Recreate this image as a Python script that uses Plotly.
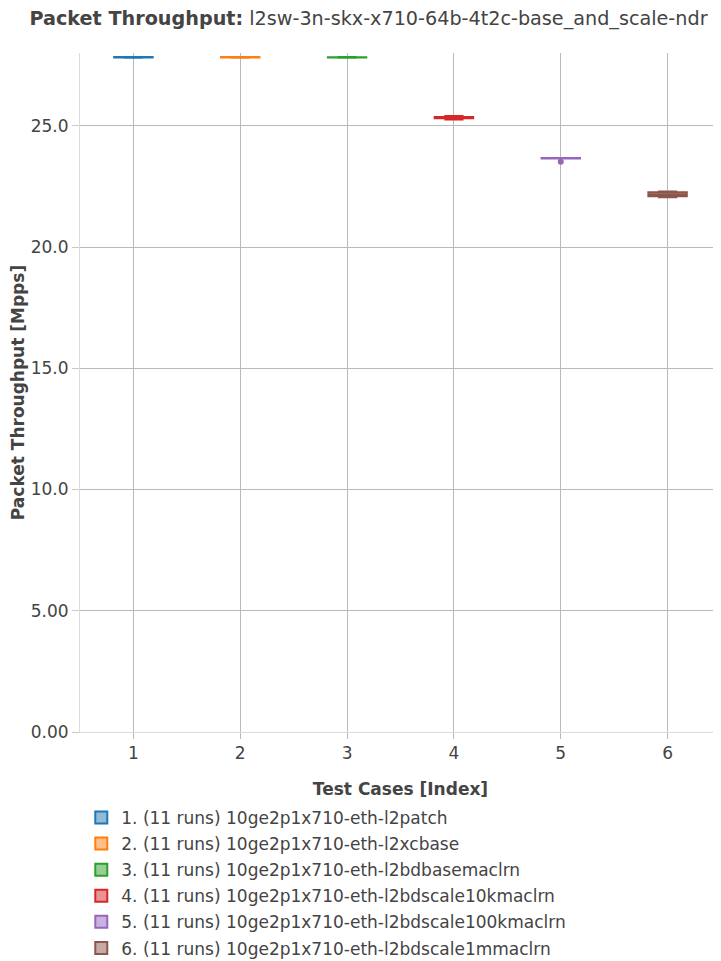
import plotly.graph_objects as go

# ---- data ----
test_index = [1, 2, 3, 4, 5, 6]
test_names = [
    "1. (11 runs) 10ge2p1x710-eth-l2patch",
    "2. (11 runs) 10ge2p1x710-eth-l2xcbase",
    "3. (11 runs) 10ge2p1x710-eth-l2bdbasemaclrn",
    "4. (11 runs) 10ge2p1x710-eth-l2bdscale10kmaclrn",
    "5. (11 runs) 10ge2p1x710-eth-l2bdscale100kmaclrn",
    "6. (11 runs) 10ge2p1x710-eth-l2bdscale1mmaclrn",
]
tc1 = [27.80, 27.81, 27.81, 27.82, 27.82, 27.82, 27.82, 27.83, 27.83, 27.84, 27.84]
tc2 = [27.80, 27.81, 27.81, 27.82, 27.82, 27.82, 27.82, 27.83, 27.83, 27.83, 27.84]
tc3 = [27.80, 27.80, 27.81, 27.82, 27.82, 27.82, 27.82, 27.82, 27.83, 27.83, 27.84]
tc4 = [25.26, 25.29, 25.31, 25.32, 25.33, 25.33, 25.34, 25.35, 25.36, 25.38, 25.40]
tc5 = [23.66, 23.67, 23.66, 23.65, 23.66, 23.67, 23.66, 23.65, 23.66, 23.67, 23.52]
tc6 = [22.05, 22.06, 22.08, 22.12, 22.15, 22.17, 22.20, 22.24, 22.27, 22.28, 22.29]
series = [tc1, tc2, tc3, tc4, tc5, tc6]
colors = ["#1f77b4", "#ff7f0e", "#2ca02c", "#d62728", "#9467bd", "#8c564b"]

y_ticks = [0, 5, 10, 15, 20, 25]

font_family = "DejaVu Sans"

fig = go.Figure()
for idx, name, vals, col in zip(test_index, test_names, series, colors):
    fig.add_trace(go.Box(
        x=[idx] * len(vals),
        y=vals,
        name=name,
        legendgroup="g%d" % idx,
        marker=dict(color=col, size=6),
        line=dict(color=col, width=2),
        boxpoints="outliers",
        width=0.36,
    ))

grid = "rgb(185,185,185)"
fig.update_layout(
    width=721,
    height=961,
    margin=dict(l=72, r=8, t=45, b=237, autoexpand=False),
    paper_bgcolor="white",
    plot_bgcolor="white",
    font=dict(family=font_family, size=17, color="rgb(68,68,68)"),
    title=dict(
        text="<b>Packet Throughput:</b> l2sw-3n-skx-x710-64b-4t2c-base_and_scale-ndr",
        x=0.5, xanchor="center", y=0.9896, yanchor="middle",
        font=dict(size=19.2, family=font_family, color="rgb(68,68,68)"),
        automargin=False,
    ),
    showlegend=True,
    legend=dict(
        orientation="v",
        x=0.002, xanchor="left",
        y=-0.100, yanchor="top",
        font=dict(size=17, family=font_family), bgcolor="rgba(0,0,0,0)",
        tracegroupgap=1,
    ),
    xaxis=dict(
        title=dict(text="<b>Test Cases [Index]</b>", font=dict(size=17), standoff=20),
        range=[0.5, 6.5],
        tickmode="array",
        tickvals=test_index,
        showgrid=True,
        gridcolor=grid,
        showline=True,
        linecolor="rgb(220,220,220)",
        ticks="outside",
        ticklen=6,
        tickcolor=grid,
        zeroline=False,
        automargin=False,
    ),
    yaxis=dict(
        title=dict(text="<b>Packet Throughput [Mpps]</b>", font=dict(size=17), standoff=8),
        range=[0, 28.0],
        tickmode="array",
        tickvals=y_ticks,
        tickformat=".3s",
        showgrid=True,
        gridcolor=grid,
        showline=True,
        linecolor="rgb(220,220,220)",
        ticks="outside",
        ticklen=7,
        tickcolor="rgb(200,200,200)",
        zeroline=False,
        automargin=False,
    ),
)

fig.write_html("out.html")
